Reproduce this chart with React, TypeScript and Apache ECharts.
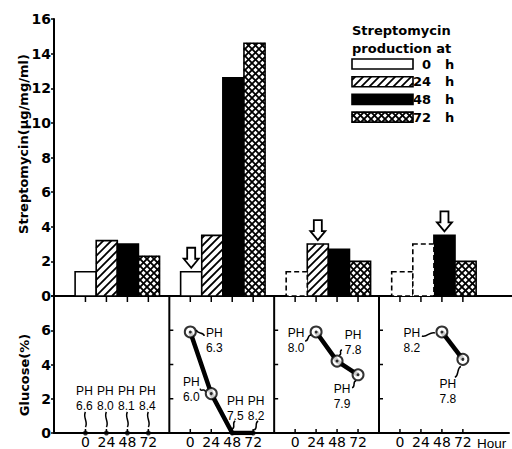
import React, { useEffect, useRef } from 'react';
import * as echarts from 'echarts';

const HOURS = ['0', '24', '48', '72'];

// Streptomycin production (μg/mg/ml) of the four cultures, one array per sampling hour
const STREP_0H = [1.4, 1.4, null, null];
const STREP_24H = [3.2, 3.5, 3.0, null];
const STREP_48H = [3.0, 12.6, 2.7, 3.5];
const STREP_72H = [2.3, 14.6, 2.0, 2.0];
// earlier yields repeated in dashed outline for the later cultures
const CARRIED_0H = [null, null, 1.4, 1.4];
const CARRIED_24H = [null, null, null, 3.0];
// hour (index into HOURS) flagged by an arrow in each culture
const MARKED_HOUR = [null, 0, 1, 2];

// Residual glucose (%) per culture
const GLUCOSE_1 = [0, 0, 0, 0];
const GLUCOSE_2 = [5.9, 2.3, 0, 0];
const GLUCOSE_3 = [null, 5.9, 4.2, 3.4];
const GLUCOSE_4 = [null, null, 5.9, 4.3];

// pH of the medium at each point
const PH_1 = ['6.6', '8.0', '8.1', '8.4'];
const PH_2 = ['6.3', '6.0', '7.5', '8.2'];
const PH_3 = [null, '8.0', '7.8', '7.9'];
const PH_4 = [null, null, '8.2', '7.8'];

// pH label placement relative to its point: [textDx, textDy, fromDx, fromDy, toDx, toDy]
const G1_POS = [-1, -35, 0, -21, 0, -6];
const PH_POS_1 = [G1_POS, G1_POS, G1_POS, G1_POS];
const PH_POS_2 = [[24, 9, 14, 4, 6, -2], [-20, -4, -11, -5, -6, -2], [3, -25, 3, -12, 0, -4], [3, -25, 5, -12, 1, -3]];
const PH_POS_3 = [null, [-20, 9, -11, 9, -5, 3], [16, -19, 5, -11, 2, -6], [-16, 22, -6, 13, -2, 6]];
const PH_POS_4 = [null, null, [-30, 9, -20, 4, -7, 1], [-15, 32, -8, 18, -2, 7]];

const STREP_BY_HOUR = [STREP_0H, STREP_24H, STREP_48H, STREP_72H];
const GLUCOSE = [GLUCOSE_1, GLUCOSE_2, GLUCOSE_3, GLUCOSE_4];
const PH = [PH_1, PH_2, PH_3, PH_4];
const PH_POS = [PH_POS_1, PH_POS_2, PH_POS_3, PH_POS_4];

const FONT = '"DejaVu Sans"';
const NOTE_FONT = '"Liberation Sans"';
const STRIDE = 5; // four hour slots plus one gap per culture
const X_MIN = -1.5;
const X_MAX = 20.2;

const slot = (g: number, h: number) => g * STRIDE + h;

function seg(x1: number, y1: number, x2: number, y2: number, lw: number) {
  return { type: 'line', shape: { x1, y1, x2, y2 }, style: { stroke: '#000', lineWidth: lw } };
}

// diagonal hatching clipped to a rectangle; dir 1 = "/", dir -1 = "\"
function hatch(x0: number, y0: number, w: number, h: number, step: number, dir: number, lw: number) {
  const x1 = x0 + w;
  const y1 = y0 + h;
  const out: any[] = [];
  if (dir === 1) {
    const start = Math.ceil((x0 + y0) / step) * step;
    for (let c = start; c < x1 + y1; c += step) {
      const xa = Math.max(x0, c - y1);
      const xb = Math.min(x1, c - y0);
      if (xb - xa > 0.5) out.push(seg(xa, c - xa, xb, c - xb, lw));
    }
  } else {
    const start = Math.ceil((x0 - y1) / step) * step;
    for (let c = start; c < x1 - y0; c += step) {
      const xa = Math.max(x0, c + y0);
      const xb = Math.min(x1, c + y1);
      if (xb - xa > 0.5) out.push(seg(xa, xa - c, xb, xb - c, lw));
    }
  }
  return out;
}

function barShapes(kind: string, x: number, y: number, w: number, h: number) {
  const shape = { x, y, width: w, height: h };
  const children: any[] = [
    { type: 'rect', shape, style: { fill: kind === 'solid' ? '#000' : '#fff' } },
  ];
  if (kind === 'hatch') children.push(...hatch(x, y, w, h, 8, 1, 1.8));
  if (kind === 'cross') {
    children.push(...hatch(x, y, w, h, 7, 1, 1.8));
    children.push(...hatch(x, y, w, h, 7, -1, 1.8));
  }
  children.push({
    type: 'rect',
    shape,
    style: { fill: 'none', stroke: '#000', lineWidth: 1.6, lineDash: kind === 'carried' ? [5, 3] : null },
  });
  return children;
}

const barRender = (kind: string) => (_params: any, api: any) => {
  const x = api.value(0);
  const v = api.value(1);
  const top = api.coord([x, v]);
  const base = api.coord([x, 0]);
  const w = api.size([1, 0])[0];
  return { type: 'group', children: barShapes(kind, top[0] - w / 2, top[1], w, base[1] - top[1]) };
};

const toPoints = (values: (number | null)[], g: number) =>
  values.map((v, h) => (v == null ? null : [slot(g, h), v])).filter((p) => p !== null) as number[][];

const barSeries = (name: string, kind: string, data: number[][]) => ({
  type: 'custom',
  name,
  xAxisIndex: 0,
  yAxisIndex: 0,
  silent: true,
  encode: { x: 0, y: 1 },
  data,
  renderItem: barRender(kind),
});

const byHour = (values: (number | null)[], h: number) =>
  values.map((v, g) => (v == null ? null : [slot(g, h), v])).filter((p) => p !== null) as number[][];

function hourLabel(v: number) {
  const i = Math.round(v);
  if (Math.abs(v - i) > 1e-6 || i < 0) return '';
  const g = Math.floor(i / STRIDE);
  const h = i % STRIDE;
  return g < 4 && h < 4 ? HOURS[h] : '';
}

function buildOption() {
  const axisLine = { show: true, onZero: false, lineStyle: { color: '#000', width: 2 } };
  const yTick = { show: true, length: 3, lineStyle: { color: '#000', width: 1.5 } };
  const tickFont = { color: '#000', fontFamily: FONT, fontSize: 14, fontWeight: 'bold' as const };

  const arrowData = MARKED_HOUR.map((h, g) =>
    h == null ? null : [slot(g, h), STREP_BY_HOUR[h][g] as number],
  ).filter((p) => p !== null) as number[][];

  const hourSlots: number[][] = [];
  for (let g = 0; g < 4; g++) for (let h = 0; h < 4; h++) hourSlots.push([slot(g, h), 0]);
  const separators = [0, 1, 2].map((g) => [slot(g, 4), 0]);

  const markerData: any[] = [];
  const centreData: number[][] = [];
  const labelData: number[][] = [];
  GLUCOSE.forEach((row, g) =>
    row.forEach((v, h) => {
      if (v == null) return;
      const x = slot(g, h);
      if (v === 0) {
        markerData.push({ value: [x, v], symbolSize: 5, itemStyle: { color: '#000', borderWidth: 0 } });
      } else {
        markerData.push({ value: [x, v], symbolSize: 11, itemStyle: { color: '#fff', borderColor: '#000', borderWidth: 2 } });
        centreData.push([x, v]);
      }
      if (PH[g][h] != null) labelData.push([x, v, g, h]);
    }),
  );

  const lineSeries = [1, 2, 3].map((g) => ({
    type: 'line',
    xAxisIndex: 1,
    yAxisIndex: 1,
    silent: true,
    symbol: 'none',
    z: 2,
    data: toPoints(GLUCOSE[g], g),
    lineStyle: { color: '#000', width: 4.5 },
  }));

  const legendRows = [
    { kind: 'open', label: '0' },
    { kind: 'hatch', label: '24' },
    { kind: 'solid', label: '48' },
    { kind: 'cross', label: '72' },
  ];
  const legendGraphics: any[] = [
    { type: 'text', x: 352, y: 30, style: { text: 'Streptomycin', font: `bold 13px ${FONT}`, fill: '#000', verticalAlign: 'middle' } },
    { type: 'text', x: 352, y: 48, style: { text: 'production at', font: `bold 13px ${FONT}`, fill: '#000', verticalAlign: 'middle' } },
  ];
  legendRows.forEach((r, i) => {
    const cy = 64 + i * 17.7;
    legendGraphics.push({ type: 'group', children: barShapes(r.kind, 352, cy - 5, 61, 10) });
    legendGraphics.push({ type: 'text', x: 431, y: cy, style: { text: r.label, font: `bold 13px ${FONT}`, fill: '#000', align: 'right', verticalAlign: 'middle' } });
    legendGraphics.push({ type: 'text', x: 445, y: cy, style: { text: 'h', font: `bold 13px ${FONT}`, fill: '#000', verticalAlign: 'middle' } });
  });

  return {
    animation: false,
    backgroundColor: '#fff',
    grid: [
      { left: 54, right: 0, top: 19, height: 277 },
      { left: 54, right: 0, top: 296, height: 139 },
    ],
    xAxis: [
      {
        type: 'value', gridIndex: 0, min: X_MIN, max: X_MAX, interval: 0.5,
        axisLine, axisTick: { show: false }, axisLabel: { show: false }, splitLine: { show: false },
      },
      {
        type: 'value', gridIndex: 1, min: X_MIN, max: X_MAX, interval: 0.5,
        axisLine, axisTick: { show: false }, splitLine: { show: false },
        axisLabel: { formatter: hourLabel, color: '#000', fontFamily: FONT, fontSize: 14, margin: 2 },
      },
    ],
    yAxis: [
      {
        type: 'value', gridIndex: 0, min: 0, max: 16, interval: 2,
        axisLine, axisTick: yTick, splitLine: { show: false },
        axisLabel: { ...tickFont, margin: 3 },
      },
      {
        type: 'value', gridIndex: 1, min: 0, max: 8, interval: 2,
        axisLine, axisTick: yTick, splitLine: { show: false },
        axisLabel: { ...tickFont, margin: 3, formatter: (v: number) => (v === 8 ? '' : String(v)) },
      },
    ],
    series: [
      barSeries('0 h', 'open', byHour(STREP_0H, 0)),
      barSeries('24 h', 'hatch', byHour(STREP_24H, 1)),
      barSeries('48 h', 'solid', byHour(STREP_48H, 2)),
      barSeries('72 h', 'cross', byHour(STREP_72H, 3)),
      barSeries('carried over', 'carried', [...byHour(CARRIED_0H, 0), ...byHour(CARRIED_24H, 1)]),
      {
        type: 'custom',
        name: 'marked hour',
        xAxisIndex: 0,
        yAxisIndex: 0,
        silent: true,
        encode: { x: 0, y: 1 },
        data: arrowData,
        renderItem: (_p: any, api: any) => {
          const [cx, ty] = api.coord([api.value(0), api.value(1)]);
          const tip = ty - 4;
          return {
            type: 'polygon',
            shape: {
              points: [
                [cx, tip], [cx - 7.5, tip - 9], [cx - 4, tip - 9], [cx - 4, tip - 20],
                [cx + 4, tip - 20], [cx + 4, tip - 9], [cx + 7.5, tip - 9],
              ],
            },
            style: { fill: '#fff', stroke: '#000', lineWidth: 1.8 },
          };
        },
      },
      {
        type: 'custom',
        name: 'hour ticks',
        xAxisIndex: 1,
        yAxisIndex: 1,
        silent: true,
        z: 1,
        encode: { x: 0, y: 1 },
        data: hourSlots,
        renderItem: (_p: any, api: any) => {
          const x = api.value(0);
          const top = api.coord([x, 8]);
          const bot = api.coord([x, 0]);
          return {
            type: 'group',
            children: [seg(top[0], top[1], top[0], top[1] + 6, 1.5), seg(bot[0], bot[1], bot[0], bot[1] - 4, 1.5)],
          };
        },
      },
      {
        type: 'custom',
        name: 'culture dividers',
        xAxisIndex: 1,
        yAxisIndex: 1,
        silent: true,
        z: 1,
        encode: { x: 0, y: 1 },
        data: separators,
        renderItem: (_p: any, api: any) => {
          const x = api.value(0);
          const top = api.coord([x, 8]);
          const bot = api.coord([x, 0]);
          const children: any[] = [seg(top[0], top[1], bot[0], bot[1], 2)];
          [2, 4, 6].forEach((t) => {
            const p = api.coord([x, t]);
            children.push(seg(p[0], p[1], p[0] + 4, p[1], 1.5));
          });
          return { type: 'group', children };
        },
      },
      ...lineSeries,
      {
        type: 'scatter',
        xAxisIndex: 1,
        yAxisIndex: 1,
        silent: true,
        z: 3,
        symbol: 'circle',
        data: markerData,
      },
      {
        type: 'scatter',
        xAxisIndex: 1,
        yAxisIndex: 1,
        silent: true,
        z: 4,
        symbol: 'circle',
        symbolSize: 3,
        itemStyle: { color: '#000' },
        data: centreData,
      },
      {
        type: 'custom',
        name: 'pH',
        xAxisIndex: 1,
        yAxisIndex: 1,
        silent: true,
        z: 5,
        encode: { x: 0, y: 1 },
        data: labelData,
        renderItem: (_p: any, api: any) => {
          const g = api.value(2);
          const h = api.value(3);
          const pos = PH_POS[g][h] as number[];
          const [px, py] = api.coord([api.value(0), api.value(1)]);
          const sx = px + pos[2];
          const sy = py + pos[3];
          const ex = px + pos[4];
          const ey = py + pos[5];
          const mx = ex - sx;
          const my = ey - sy;
          const len = Math.hypot(mx, my) || 1;
          const nx = (-my / len) * 3;
          const ny = (mx / len) * 3;
          const tx = px + pos[0];
          const ty = py + pos[1];
          const font = `12px ${NOTE_FONT}`;
          const textStyle = { font, fill: '#000', align: 'center', verticalAlign: 'middle', lineHeight: 11 };
          return {
            type: 'group',
            children: [
              { type: 'text', x: tx, y: ty - 7.5, style: { ...textStyle, text: 'PH' } },
              { type: 'text', x: tx, y: ty + 7.5, style: { ...textStyle, text: PH[g][h] } },
              {
                type: 'bezierCurve',
                shape: {
                  x1: sx, y1: sy, x2: ex, y2: ey,
                  cpx1: sx + mx / 3 + nx, cpy1: sy + my / 3 + ny,
                  cpx2: sx + (2 * mx) / 3 - nx, cpy2: sy + (2 * my) / 3 - ny,
                },
                style: { stroke: '#000', lineWidth: 1.5, fill: 'none' },
              },
            ],
          };
        },
      },
    ],
    graphic: [
      {
        type: 'text', x: 23, y: 144, rotation: Math.PI / 2,
        style: { text: 'Streptomycin(μg/mg/ml)', font: `bold 13px ${FONT}`, fill: '#000', align: 'center', verticalAlign: 'middle' },
      },
      {
        type: 'text', x: 24, y: 375, rotation: Math.PI / 2,
        style: { text: 'Glucose(%)', font: `bold 13px ${FONT}`, fill: '#000', align: 'center', verticalAlign: 'middle' },
      },
      {
        type: 'text', x: 477, y: 443,
        style: { text: 'Hour', font: `13.5px ${NOTE_FONT}`, fill: '#000', verticalAlign: 'middle' },
      },
      ...legendGraphics,
    ],
  };
}

export default function App() {
  const ref = useRef<HTMLDivElement>(null);
  useEffect(() => {
    if (!ref.current) return;
    const chart = echarts.init(ref.current, null, { renderer: 'svg' });
    chart.setOption(buildOption() as any);
    return () => chart.dispose();
  }, []);
  return (
    <div
      ref={ref}
      style={{ position: 'fixed', left: 0, top: 0, width: 512, height: 449, background: '#fff' }}
    />
  );
}
